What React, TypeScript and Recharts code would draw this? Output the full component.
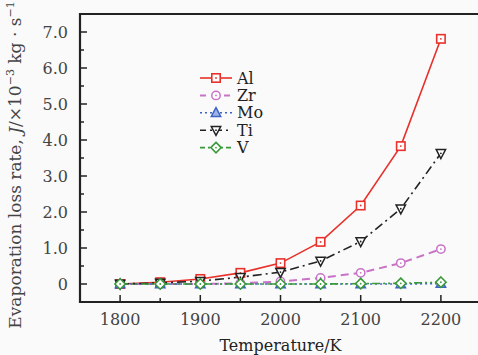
import React from "react";
import { LineChart, Line, XAxis, YAxis, ReferenceArea } from "recharts";

const temperatures = [1800, 1850, 1900, 1950, 2000, 2050, 2100, 2150, 2200];
const alValues = [0, 0.05, 0.14, 0.31, 0.58, 1.17, 2.18, 3.83, 6.81];
const zrValues = [0, 0, 0, 0.02, 0.07, 0.17, 0.31, 0.58, 0.97];
const moValues = [0, 0, 0, 0, 0, 0, 0, 0, 0.01];
const tiValues = [0, 0.03, 0.08, 0.19, 0.33, 0.64, 1.18, 2.09, 3.63];
const vValues = [0, 0, 0, 0, 0, 0, 0.01, 0.02, 0.05];

const xTicks = [1800, 1850, 1900, 1950, 2000, 2050, 2100, 2150, 2200];
const xLabelTicks = [1800, 1900, 2000, 2100, 2200];
const yTicks = [0, 0.5, 1, 1.5, 2, 2.5, 3, 3.5, 4, 4.5, 5, 5.5, 6, 6.5, 7];
const yLabels: Record<string, string> = {
  "0": "0", "1": "1.0", "2": "2.0", "3": "3.0", "4": "4.0", "5": "5.0", "6": "6.0", "7": "7.0",
};

const data = temperatures.map((t, i) => ({
  t,
  Al: alValues[i],
  Zr: zrValues[i],
  Mo: moValues[i],
  Ti: tiValues[i],
  V: vValues[i],
}));

const FONT = "DejaVu Serif";
const TEXT = "#444";

const series = [
  { key: "Al", color: "#e8312a", dash: undefined as string | undefined, legendDash: undefined as string | undefined, width: 1.6, shape: "square" },
  { key: "Zr", color: "#c873c8", dash: "8 5", legendDash: "6 6", width: 2, shape: "circle" },
  { key: "Mo", color: "#3d63c4", dash: "2 3", legendDash: "2 3", width: 1.6, shape: "triangle" },
  { key: "Ti", color: "#222", dash: "9 4 2 4", legendDash: "6 4 2 4", width: 1.6, shape: "tridown" },
  { key: "V", color: "#3a9a3a", dash: "8 3 2 3 2 3", legendDash: "5 3 2 3", width: 1.6, shape: "diamond" },
];

function Marker({ cx, cy, shape, color }: { cx: number; cy: number; shape: string; color: string }) {
  const s = 4.2;
  const inner = <circle cx={cx} cy={cy} r={0.9} fill={color} />;
  if (shape === "square")
    return (
      <g>
        <rect x={cx - s} y={cy - s} width={2 * s} height={2 * s} fill="#fff" stroke={color} strokeWidth={1.6} />
        {inner}
      </g>
    );
  if (shape === "circle")
    return (
      <g>
        <circle cx={cx} cy={cy} r={s} fill="#fff" stroke={color} strokeWidth={1.5} />
        {inner}
      </g>
    );
  if (shape === "triangle")
    return (
      <g>
        <path d={`M${cx},${cy - s - 1} L${cx + s + 0.5},${cy + s - 0.5} L${cx - s - 0.5},${cy + s - 0.5} Z`} fill="#9fb3e6" stroke={color} strokeWidth={1.5} />
      </g>
    );
  if (shape === "tridown")
    return (
      <g>
        <path d={`M${cx},${cy + s + 1} L${cx + s + 0.5},${cy - s + 0.5} L${cx - s - 0.5},${cy - s + 0.5} Z`} fill="#fff" stroke={color} strokeWidth={1.5} />
        {inner}
      </g>
    );
  return (
    <g>
      <path d={`M${cx},${cy - s - 1} L${cx + s + 1},${cy} L${cx},${cy + s + 1} L${cx - s - 1},${cy} Z`} fill="#fff" stroke={color} strokeWidth={1.6} />
      {inner}
    </g>
  );
}

function XTick(props: any) {
  const { x, y, payload } = props;
  const v = payload.value as number;
  const major = xLabelTicks.includes(v);
  const axisY = y - 8;
  return (
    <g>
      <line x1={x} x2={x} y1={axisY} y2={axisY - (major ? 7 : 4)} stroke="#222" strokeWidth={1.5} />
      {major && (
        <text x={x} y={axisY + 23} textAnchor="middle" fontFamily={FONT} fontSize={16} fill={TEXT}>
          {v}
        </text>
      )}
    </g>
  );
}

function YTick(props: any) {
  const { x, y, payload } = props;
  const v = payload.value as number;
  const label = yLabels[String(v)];
  const axisX = x + 8;
  return (
    <g>
      <line x1={axisX} x2={axisX + (label ? 7 : 4)} y1={y} y2={y} stroke="#222" strokeWidth={1.5} />
      {label && (
        <text x={axisX - 12} y={y + 6} textAnchor="end" fontFamily={FONT} fontSize={16} fill={TEXT}>
          {label}
        </text>
      )}
    </g>
  );
}

function LegendBox() {
  const rowH = 17.4;
  return (
    <svg width={90} height={95} style={{ position: "absolute", left: 198, top: 70, overflow: "visible" }}>
      {series.map((s, i) => {
        const y = 8 + i * rowH;
        return (
          <g key={s.key}>
            <line x1={2} x2={34} y1={y} y2={y} stroke={s.color} strokeWidth={s.width} strokeDasharray={s.legendDash} />
            <Marker cx={18} cy={y} shape={s.shape} color={s.color} />
            <text x={39} y={y + 5.5} fontFamily={FONT} fontSize={16} fill="#222">
              {s.key}
            </text>
          </g>
        );
      })}
    </svg>
  );
}

export default function App() {
  return (
    <div style={{ position: "absolute", left: 0, top: 0, width: 478, height: 355, overflow: "hidden", background: "#fafafa" }}>
      <LineChart width={482} height={355} data={data} margin={{ top: 14, right: 1, left: 0, bottom: 0 }}>
        <ReferenceArea x1={1750} x2={2250} y1={-0.5} y2={7.5} fill="none" stroke="#222" strokeWidth={2.2} ifOverflow="visible" />
        <XAxis
          dataKey="t"
          type="number"
          domain={[1750, 2250]}
          ticks={xTicks}
          interval={0}
          height={53}
          axisLine={false}
          tickLine={false}
          tick={<XTick />}
          label={{ value: "Temperature/K", position: "insideBottom", offset: 4, fontFamily: FONT, fontSize: 16, fill: "#222" }}
        />
        <YAxis
          type="number"
          domain={[-0.5, 7.5]}
          ticks={yTicks}
          interval={0}
          width={80}
          axisLine={false}
          tickLine={false}
          tick={<YTick />}
          label={() => {
            const cy = 165;
            return (
              <text x={21} y={cy} transform={`rotate(-90 21 ${cy})`} textAnchor="middle" fontFamily={FONT} fontSize={17} fill={TEXT}>
                Evaporation loss rate,{" "}
                <tspan fontStyle="italic">J</tspan>/×10
                <tspan dy={-7} fontSize={11}>−3</tspan>
                <tspan dy={7}> kg · s</tspan>
                <tspan dy={-7} fontSize={11}>−1</tspan>
              </text>
            );
          }}
        />
        {series.map((s) => (
          <Line
            key={s.key}
            dataKey={s.key}
            stroke={s.color}
            strokeWidth={s.width}
            strokeDasharray={s.dash}
            isAnimationActive={false}
            dot={(p: any) => <Marker key={`${s.key}-${p.index}`} cx={p.cx} cy={p.cy} shape={s.shape} color={s.color} />}
            activeDot={false}
          />
        ))}
      </LineChart>
      <LegendBox />
    </div>
  );
}
